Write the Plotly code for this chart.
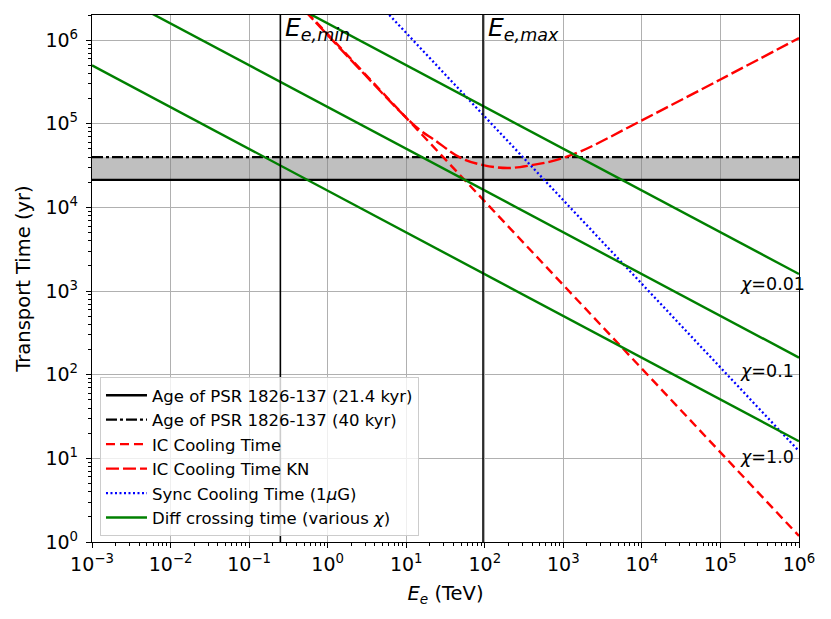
import numpy as np
import plotly.graph_objects as go

# ---------------- data ----------------
E_min = 0.25        # TeV
E_max = 95.0        # TeV
age_short = 21.4e3  # yr
age_long = 40.0e3   # yr

x_edges = [1e-3, 1e6]          # TeV, plot edges
y_edges = [1.0, 2.0e6]         # yr, plot edges

ic_E = [0.1, 1e6]
ic_t = [1.18e7, 1.18]

ickn_E = [0.5, 1.0, 3.0, 8.0, 15.0, 22.6, 49.5, 98.0, 195.0, 385.0, 762.0, 1660.0, 1.0e4, 1.0e5, 1.0e6]
ickn_t = [2.3e6, 1.15e6, 3.83e5, 1.46e5, 8.4e4, 6.47e4, 3.91e4, 3.19e4, 2.96e4, 3.19e4, 3.63e4, 4.68e4, 1.10e5, 3.39e5, 1.06e6]

sync_E = [1.0, 1e6]
sync_t = [1.22e7, 12.2]

diff_E = [1e-3, 1e6]
diff_t_chi1 = [5.0e5, 16.0]
diff_t_chi01 = [5.0e6, 160.0]
diff_t_chi001 = [5.0e7, 1600.0]

chi_labels = ["χ=1.0", "χ=0.1", "χ=0.01"]
chi_label_E = [1.8e5, 1.8e5, 1.8e5]
chi_label_t = [10.5, 110.0, 1216.0]

x_tick_exp = list(range(-3, 7))
y_tick_exp = list(range(0, 7))

# ---------------- figure ----------------
FONT = "DejaVu Sans"
fig = go.Figure()

# grey band between the two ages
fig.add_trace(go.Scatter(
    x=[x_edges[0], x_edges[1], x_edges[1], x_edges[0]],
    y=[age_short, age_short, age_long, age_long],
    fill="toself", fillcolor="rgba(128,128,128,0.5)",
    line=dict(width=0), mode="lines", showlegend=False, hoverinfo="skip"))

fig.add_trace(go.Scatter(
    x=x_edges, y=[age_short, age_short], mode="lines",
    line=dict(color="black", width=2.3),
    name="Age of PSR 1826-137 (21.4 kyr)"))
fig.add_trace(go.Scatter(
    x=x_edges, y=[age_long, age_long], mode="lines",
    line=dict(color="black", width=2.3, dash="11px,3px,3px,3px"),
    name="Age of PSR 1826-137 (40 kyr)"))
fig.add_trace(go.Scatter(
    x=ic_E, y=ic_t, mode="lines",
    line=dict(color="red", width=2.4, dash="9px,5px"),
    name="IC Cooling Time"))
fig.add_trace(go.Scatter(
    x=ickn_E, y=ickn_t, mode="lines", line_shape="spline",
    line=dict(color="red", width=2.4, dash="13px,4px"),
    name="IC Cooling Time KN"))
fig.add_trace(go.Scatter(
    x=sync_E, y=sync_t, mode="lines",
    line=dict(color="blue", width=2.3, dash="2px,2.5px"),
    name="Sync Cooling Time (1<i>μ</i>G)"))
for i, t in enumerate([diff_t_chi1, diff_t_chi01, diff_t_chi001]):
    fig.add_trace(go.Scatter(
        x=diff_E, y=t, mode="lines",
        line=dict(color="green", width=2.4),
        name="Diff crossing time (various <i>χ</i>)",
        showlegend=(i == 0)))

# vertical energy limits
for e in (E_min, E_max):
    fig.add_trace(go.Scatter(
        x=[e, e], y=[y_edges[0] * 0.5, y_edges[1] * 2], mode="lines",
        line=dict(color="black", width=1.6), showlegend=False, hoverinfo="skip"))

annotations = []
for lab, xe, yt in zip(chi_labels, chi_label_E, chi_label_t):
    annotations.append(dict(
        x=np.log10(xe), y=np.log10(yt), xref="x", yref="y",
        text="<i>χ</i>" + lab[1:], showarrow=False,
        xanchor="left", yanchor="middle", xshift=-3,
        font=dict(family=FONT, size=17.5, color="black")))
for e, sub in ((E_min, "e,min"), (E_max, "e,max")):
    annotations.append(dict(
        x=np.log10(e), y=1, xref="x", yref="paper",
        text="<i>E</i><sub><i>%s</i></sub>" % sub, showarrow=False,
        xanchor="left", yanchor="top", xshift=3, yshift=4,
        font=dict(family=FONT, size=25, color="black")))

axis_common = dict(
    type="log", showgrid=True, gridcolor="#b0b0b0", gridwidth=1,
    showline=True, linecolor="black", linewidth=1.3, mirror=True,
    ticks="outside", ticklen=5, tickwidth=1, tickcolor="black",
    zeroline=False,
    tickfont=dict(family=FONT, size=19, color="black"),
    minor=dict(ticks="outside", ticklen=3, tickwidth=0.8, tickcolor="black",
               showgrid=False, dtick="D1"),
)

fig.update_layout(
    width=831, height=619,
    margin=dict(l=84, r=40, t=7, b=85),
    paper_bgcolor="white", plot_bgcolor="white",
    font=dict(family=FONT, color="black"),
    annotations=annotations,
    xaxis=dict(
        axis_common, range=[np.log10(x_edges[0]), np.log10(x_edges[1])],
        tickmode="array", tickvals=[10.0 ** k for k in x_tick_exp],
        ticktext=["10<sup>%s</sup>" % (str(k).replace("-", "−")) for k in x_tick_exp],
        title=dict(text="<i>E</i><sub><i>e</i></sub> (TeV)", font=dict(family=FONT, size=19.5), standoff=12)),
    yaxis=dict(
        axis_common, range=[np.log10(y_edges[0]), np.log10(y_edges[1])],
        tickmode="array", tickvals=[10.0 ** k for k in y_tick_exp],
        ticktext=["10<sup>%d</sup>" % k for k in y_tick_exp],
        ticklabelstandoff=4,
        title=dict(text="Transport Time (yr)", font=dict(family=FONT, size=19.5), standoff=9)),
    legend=dict(
        x=0.0113, y=0.313, xanchor="left", yanchor="top",
        bgcolor="rgba(255,255,255,0.8)", bordercolor="#cccccc", borderwidth=1,
        font=dict(family=FONT, size=16.5, color="black"),
        itemwidth=41, traceorder="normal"),
)

fig.write_html("out.html")
